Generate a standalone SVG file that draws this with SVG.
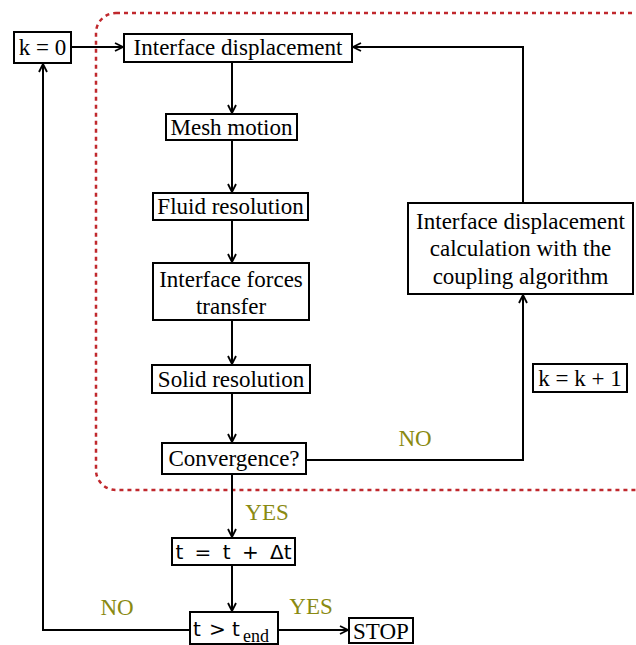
<svg xmlns="http://www.w3.org/2000/svg" width="636" height="645" viewBox="0 0 636 645">
<style>
.box{fill:#fff;stroke:#000;stroke-width:2}
.t{font-size:23px;fill:#000;text-anchor:middle}
.s{font-size:20px;fill:#000;text-anchor:middle}
.lab{font-size:23px;fill:#8a8a12;text-anchor:middle}
.c{fill:none;stroke:#000;stroke-width:2}
</style>
<defs>
<marker id="ah" viewBox="0 0 10 10" refX="9" refY="5" markerWidth="10" markerHeight="10" markerUnits="userSpaceOnUse" orient="auto">
<path d="M1,1 L9,5 L1,9" fill="none" stroke="#000" stroke-width="1.8"/>
</marker>
</defs>
<rect x="96" y="13" width="570" height="477" rx="20" fill="none" stroke="#c0282d" stroke-width="2.5" stroke-dasharray="4,4"/>
<g id="connectors" font-family="'Liberation Serif', 'DejaVu Serif', serif">
<path class="c" d="M72,47 H123" marker-end="url(#ah)"/>
<path class="c" d="M523,203 V47 H353" marker-end="url(#ah)"/>
<path class="c" d="M232,62 V113" marker-end="url(#ah)"/>
<path class="c" d="M232,140 V192" marker-end="url(#ah)"/>
<path class="c" d="M232,220 V262" marker-end="url(#ah)"/>
<path class="c" d="M232,320 V364" marker-end="url(#ah)"/>
<path class="c" d="M232,393 V442" marker-end="url(#ah)"/>
<path class="c" d="M306,460 H523 V295" marker-end="url(#ah)"/>
<path class="c" d="M232,474 V537" marker-end="url(#ah)"/>
<path class="c" d="M232,565 V611" marker-end="url(#ah)"/>
<path class="c" d="M278,630 H348" marker-end="url(#ah)"/>
<path class="c" d="M190,630 H43 V64" marker-end="url(#ah)"/>
<text class="lab" x="415" y="446">NO</text>
<text class="lab" x="267" y="520">YES</text>
<text class="lab" x="311" y="614">YES</text>
<text class="lab" x="117" y="615">NO</text>
</g>
<g font-family="'Liberation Serif', 'DejaVu Serif', serif">
<g id="k0"><rect class="box" x="14" y="32" width="57" height="31"/><text class="t" x="42.5" y="55">k = 0</text></g>
<g id="iface"><rect class="box" x="124" y="34" width="228" height="28"/><text class="t" x="238" y="55">Interface displacement</text></g>
<g id="mesh"><rect class="box" x="166" y="114" width="131" height="26"/><text class="t" x="231.5" y="135">Mesh motion</text></g>
<g id="fluid"><rect class="box" x="153" y="193" width="155" height="27"/><text class="t" x="230.5" y="214">Fluid resolution</text></g>
<g id="forces"><rect class="box" x="153" y="263" width="156" height="57"/><text class="t" x="231" y="287">Interface forces</text><text class="t" x="231" y="314">transfer</text></g>
<g id="solid"><rect class="box" x="152" y="365" width="158" height="28"/><text class="t" x="231" y="387">Solid resolution</text></g>
<g id="conv"><rect class="box" x="162" y="443" width="144" height="31"/><text class="t" x="234" y="466">Convergence?</text></g>
<g id="calc"><rect class="box" x="408" y="203" width="225" height="91"/><text class="t" x="520.5" y="229">Interface displacement</text><text class="t" x="520.5" y="256">calculation with the</text><text class="t" x="520.5" y="284">coupling algorithm</text></g>
<g id="kk1"><rect class="box" x="533" y="364" width="94" height="28"/><text class="t" x="580" y="386">k = k + 1</text></g>
<g id="stop"><rect class="box" x="349" y="618" width="64" height="25"/><text class="t" x="381" y="639">STOP</text></g>
</g>
<g font-family="'DejaVu Sans', 'Liberation Sans', sans-serif">
<g id="tdt"><rect class="box" x="172" y="538" width="123" height="27"/><text class="s" x="233.5" y="559" word-spacing="5">t = t + Δt</text></g>
<g id="tend"><rect class="box" x="190" y="612" width="88" height="32"/><text font-size="20" fill="#000" y="636"><tspan x="193">t</tspan><tspan x="209">&gt;</tspan><tspan x="232">t</tspan></text><text x="243" y="642" font-family="'Liberation Serif', serif" font-size="18" fill="#000">end</text></g>
</g>
</svg>
